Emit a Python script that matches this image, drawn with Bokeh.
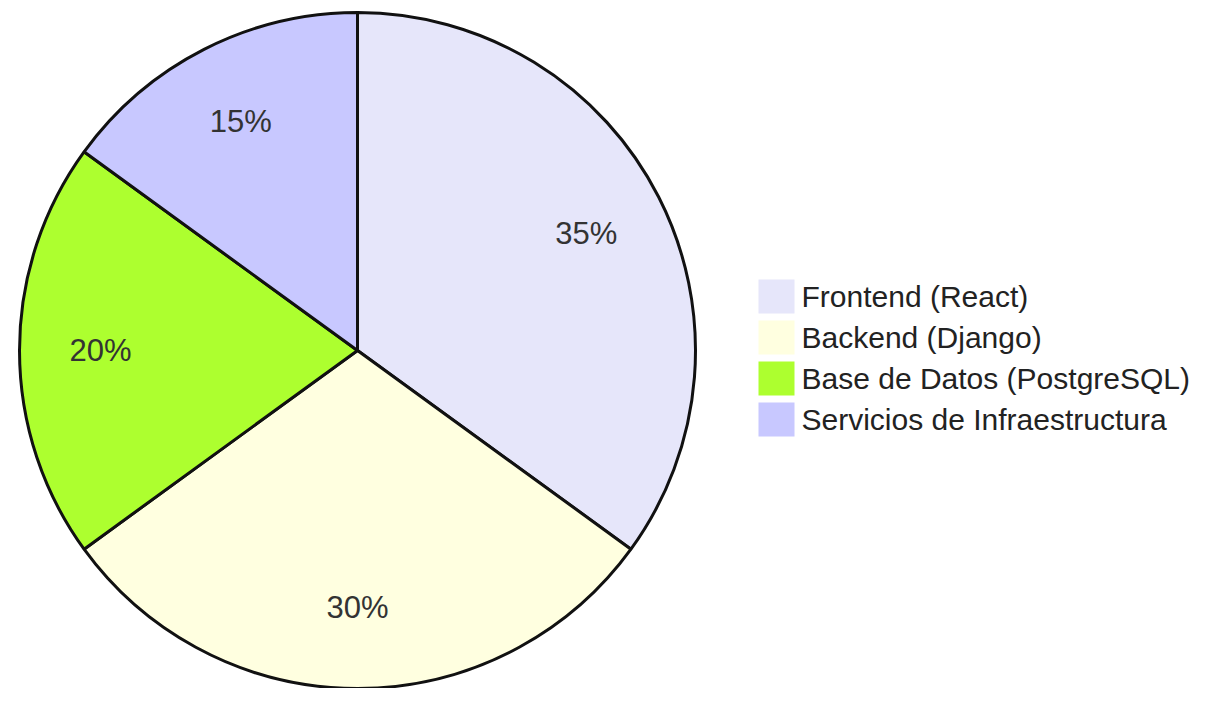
import math
from bokeh.plotting import figure
from bokeh.models import Range1d, ColumnDataSource
from bokeh.core.properties import value
from bokeh.embed import file_html
from bokeh.resources import INLINE

categories = ["Frontend (React)", "Backend (Django)",
              "Base de Datos (PostgreSQL)", "Servicios de Infraestructura"]
shares = [35, 30, 20, 15]
colors = ["#E6E6FA", "#FFFFE0", "#ADFF2F", "#C8C8FF"]
labels = [f"{s}%" for s in shares]

W, H = 1201, 688
# coordinates: data x = picture x, data y = H - picture y
cx, R = 357, 338
cy = H - 350

total = sum(shares)
starts, ends, lx, ly = [], [], [], []
acc = 0
for s in shares:
    a0 = math.pi / 2 - 2 * math.pi * acc / total
    acc += s
    a1 = math.pi / 2 - 2 * math.pi * acc / total
    starts.append(a1)
    ends.append(a0)
    mid = (a0 + a1) / 2
    lx.append(cx + 0.76 * R * math.cos(mid))
    ly.append(cy + 0.76 * R * math.sin(mid))

src = ColumnDataSource(dict(start=starts, end=ends, color=colors,
                            lx=lx, ly=ly, label=labels, cat=categories))

p = figure(width=W, height=H, output_backend="svg", toolbar_location=None,
           x_range=Range1d(0, W), y_range=Range1d(0, H),
           min_border=0, x_axis_location=None, y_axis_location=None,
           outline_line_color=None, background_fill_color="white",
           border_fill_color="white")
p.grid.visible = False

p.wedge(x=cx, y=cy, radius=R, start_angle="start", end_angle="end",
        fill_color="color", line_color="#111111", line_width=3, source=src)

p.text(x="lx", y="ly", text="label", source=src, text_align="center",
       text_baseline="middle", text_font=value("Liberation Sans"),
       text_font_size="31px", text_color="#333333")

# legend
row_y = [H - (296 + 41 * i) for i in range(len(categories))]
lsrc = ColumnDataSource(dict(y=row_y, color=colors, cat=categories))
p.rect(x=776, y="y", width=36, height=34, fill_color="color", line_color=None,
       source=lsrc)
p.text(x=801, y="y", text="cat", source=lsrc, text_align="left",
       text_baseline="middle", text_font=value("Liberation Sans"),
       text_font_size="30px", text_color="#222222")

open("out.html", "w").write(file_html(p, INLINE))
